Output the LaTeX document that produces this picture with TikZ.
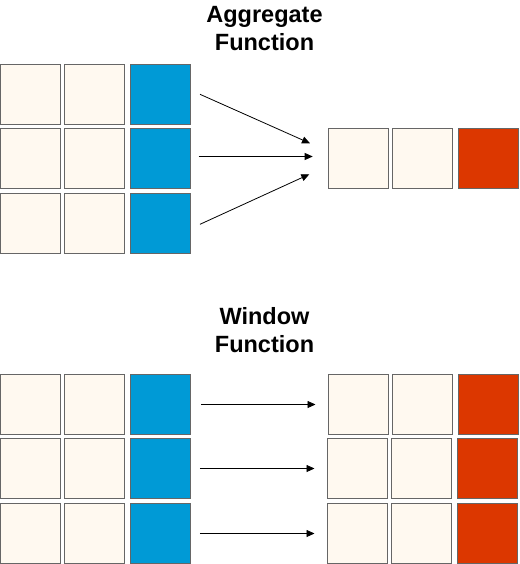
\documentclass[tikz,border=0pt]{standalone}
\usepackage{fontspec}
\setmainfont{Liberation Sans}
\usetikzlibrary{arrows.meta}
\definecolor{cream}{HTML}{FFF9F0}
\definecolor{cellborder}{HTML}{666666}
\definecolor{blueval}{HTML}{009AD6}
\definecolor{redval}{HTML}{DC3700}
\begin{document}
\begin{tikzpicture}[x=1pt,y=-1pt,
  cell/.style={draw=cellborder,line width=1pt,minimum size=60pt,inner sep=0pt,outer sep=0pt},
  plain/.style={cell,fill=cream},
  bluecell/.style={cell,fill=blueval},
  redcell/.style={cell,fill=redval},
  conn/.style={line width=0.8pt,-{Triangle[length=8pt,width=7pt]}},
  title/.style={font=\bfseries\fontsize{23.5}{28}\selectfont,align=center,inner sep=0pt}]
\useasboundingbox (0,0) rectangle (519,564);
% titles (anchor=base sits on the last line's baseline)
\node[title,anchor=base] (t1) at (264.5,50.5) {Aggregate\\Function};
\node[title,anchor=base] (t2) at (264.5,352.3) {Window\\Function};
% top input grid
\foreach \r/\y in {1/94.5,2/158.5,3/223.5}{
  \node[plain] (a\r1) at (30.5,\y) {};
  \node[plain] (a\r2) at (94.5,\y) {};
  \node[bluecell] (a\r3) at (160.5,\y) {};
}
% top output
\node[plain] (o1) at (358.5,158.5) {};
\node[plain] (o2) at (422.5,158.5) {};
\node[redcell] (o3) at (488.5,158.5) {};
% arrow ends
\coordinate (s1) at (200,94.3);
\coordinate (s2) at (198.7,156.5);
\coordinate (s3) at (200,224.3);
\coordinate (e1) at (310,143.3);
\coordinate (e2) at (312.7,156.5);
\coordinate (e3) at (309.3,174.3);
\foreach \i in {1,2,3}{\draw[conn] (s\i) -- (e\i);}
% bottom input grid
\foreach \r/\y in {1/404.5,2/468.5,3/533.5}{
  \node[plain] (b\r1) at (30.5,\y) {};
  \node[plain] (b\r2) at (94.5,\y) {};
  \node[bluecell] (b\r3) at (160.5,\y) {};
}
% bottom output grid
\foreach \r/\y/\dx in {1/404.5/0,2/468.5/-1,3/533.5/-1}{
  \node[plain] (c\r1) at (358.5+\dx,\y) {};
  \node[plain] (c\r2) at (422.5+\dx,\y) {};
  \node[redcell] (c\r3) at (488.5+\dx,\y) {};
}
\draw[conn] ([xshift=10.5pt]b13.east) -- ([xshift=-13pt]c11.west);
\draw[conn] ([xshift=9.3pt]b23.east) -- ([xshift=-13pt]c21.west);
\draw[conn] ([xshift=9.3pt]b33.east) -- ([xshift=-13pt]c31.west);
\end{tikzpicture}
\end{document}
